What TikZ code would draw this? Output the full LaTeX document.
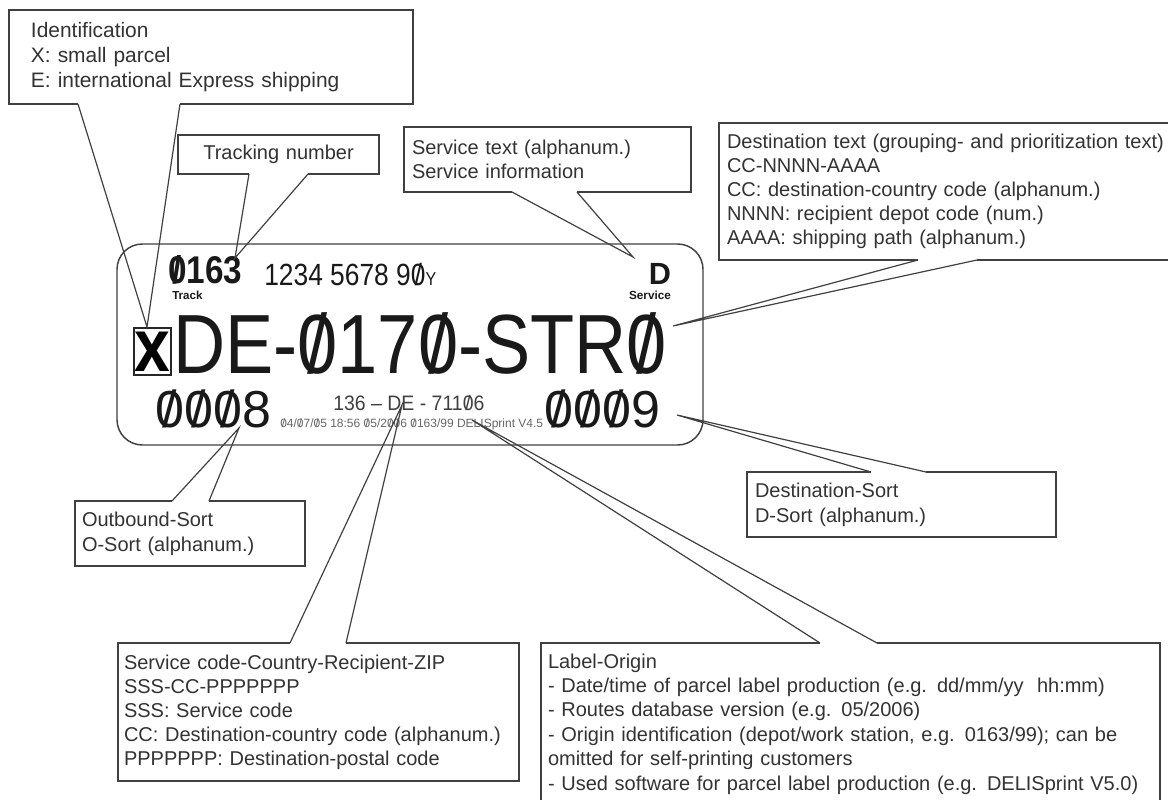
\documentclass[tikz,border=0pt]{standalone}
\usepackage{fontspec}
\setmainfont{Liberation Sans}
\newfontfamily\condfont[FakeStretch=0.86]{Liberation Sans}
\newfontfamily\semifont[FakeStretch=0.93]{Liberation Sans}
\usetikzlibrary{calc, positioning}
\newdimen\px \px=0.75pt
\newcommand{\sz}{\ooalign{0\cr\hidewidth/\hidewidth\cr}}
\tikzset{
    note/.style={rectangle, draw=black!75, line width=1pt, fill=white, anchor=north west, outer sep=0pt, inner ysep=0pt, inner xsep=8\px, align=left, text=black!80, font=\fontsize{15}{18}\selectfont},
    wedge/.style={draw=black!75, line width=0.9pt, line join=miter},
    gap/.style={draw=white, line width=1.8pt},
    tag/.style={inner sep=0pt, anchor=base west, text=black!90}
}

\begin{document}
\begin{tikzpicture}[x=0.75pt, y=-0.75pt]
    \useasboundingbox (0,0) rectangle (1168,800);
    \clip (0,0) rectangle (1168,800);

    % Parcel label
    \node[draw=black!75, line width=1.1pt, rounded corners=19pt, minimum width=586\px, minimum height=201\px, anchor=north west, outer sep=0pt] (parcel) at (117,244) {};
    \node[tag, font=\condfont\bfseries\fontsize{29}{29}\selectfont] (depot) at (168,283) {\sz163};
    \node[tag, font=\condfont\fontsize{23}{23}\selectfont] (parcelno) at (264,285) {1234 5678 9\sz{\fontsize{14}{14}\selectfont Y}};
    \node[tag, font=\bfseries\fontsize{8.7}{9}\selectfont] (track) at (172,299) {Track};
    \node[tag, anchor=base, font=\bfseries\fontsize{23}{23}\selectfont] (service) at (660,284) {D};
    \node[tag, anchor=base, font=\bfseries\fontsize{8.8}{9}\selectfont] (servicelbl) at (650,299) {Service};
    \node[draw=black!85, line width=1.2pt, minimum width=37\px, minimum height=47\px, anchor=north west, inner sep=0pt, outer sep=0pt, font=\condfont\bfseries\fontsize{56}{56}\selectfont] (xbox) at (134,328) {x};
    \node[tag, font=\condfont\fontsize{63}{63}\selectfont] (dest) at (173,373) {DE-\sz17\sz-STR\sz};
    \node[tag, font=\fontsize{39}{39}\selectfont] (osort) at (155,427) {\sz\sz\sz8};
    \node[tag, font=\fontsize{39}{39}\selectfont] (dsort) at (544,427) {\sz\sz\sz9};
    \node[tag, font=\semifont\fontsize{15.7}{16}\selectfont, text=black!75] (zip) at (333,410) {136 – DE - 711\sz6};
    \node[tag, font=\fontsize{9}{9}\selectfont, text=black!60] (origin) at (280,427) {\sz4/\sz7/\sz5 18:56 \sz5/2\sz\sz6 \sz163/99 DELISprint V4.5};

    % Callout boxes
    \node[note, minimum width=404\px, minimum height=94\px, inner xsep=22\px, text width=360\px, font=\fontsize{15.7}{18.8}\selectfont] (n-id) at (9,10)
        {Identification\\X: small parcel\\E: international Express shipping};
    \node[note, minimum width=201\px, minimum height=39\px, text width=185\px, align=center] (n-track) at (178,135) {Tracking number};
    \node[note, minimum width=287\px, minimum height=65\px, text width=271\px] (n-serv) at (404,127)
        {Service text (alphanum.)\\Service information};
    \node[note, minimum width=461\px, minimum height=137\px, text width=445\px] (n-dest) at (719,123)
        {Destination text (grouping- and prioritization text)\\CC-NNNN-AAAA\\CC: destination-country code (alphanum.)\\NNNN: recipient depot code (num.)\\AAAA: shipping path (alphanum.)};
    \node[note, minimum width=230\px, minimum height=65\px, inner xsep=7\px, text width=216\px, font=\fontsize{15}{19}\selectfont] (n-osort) at (75,501)
        {Outbound-Sort\\O-Sort (alphanum.)};
    \node[note, minimum width=309\px, minimum height=65\px, text width=293\px, font=\fontsize{15}{19}\selectfont] (n-dsort) at (747,472)
        {Destination-Sort\\D-Sort (alphanum.)};
    \node[note, minimum width=401\px, minimum height=138\px, inner xsep=6\px, text width=389\px] (n-code) at (118,643)
        {Service code-Country-Recipient-ZIP\\SSS-CC-PPPPPPP\\SSS: Service code\\CC: Destination-country code (alphanum.)\\PPPPPPP: Destination-postal code};
    \node[note, minimum width=619\px, minimum height=162\px, inner xsep=7\px, text width=605\px, font=\fontsize{15}{18.3}\selectfont] (n-orig) at (541,643)
        {Label-Origin\\- Date/time of parcel label production (e.g. dd/mm/yy\ \ hh:mm)\\- Routes database version (e.g. 05/2006)\\- Origin identification (depot/work station, e.g. 0163/99); can be\\omitted for self-printing customers\\- Used software for parcel label production (e.g. DELISprint V5.0)};

    % Pointer tips
    \coordinate (t-id) at (147,327);
    \coordinate (t-track) at (235,258);
    \coordinate (t-serv) at (633,257);
    \coordinate (t-dest) at (673,326);
    \coordinate (t-osort) at (239,428);
    \coordinate (t-dsort) at (677,415);
    \coordinate (t-code) at (402,405);
    \coordinate (t-orig) at (472,420);

    % Pointers
    \foreach \c/\a/\b/\t in {n-id.south west/69/171/t-id, n-track.south west/71/130/t-track,
        n-serv.south west/108/173/t-serv, n-dest.south west/199/258/t-dest,
        n-osort.north west/97/134/t-osort, n-dsort.north west/124/179/t-dsort,
        n-code.north west/172/228/t-code, n-orig.north west/279/336/t-orig}
    {
        \draw[gap] ($(\c)+(\a,0)$) -- ($(\c)+(\b,0)$);
        \draw[wedge] ($(\c)+(\a,0)$) -- (\t) -- ($(\c)+(\b,0)$);
    }
\end{tikzpicture}
\end{document}
